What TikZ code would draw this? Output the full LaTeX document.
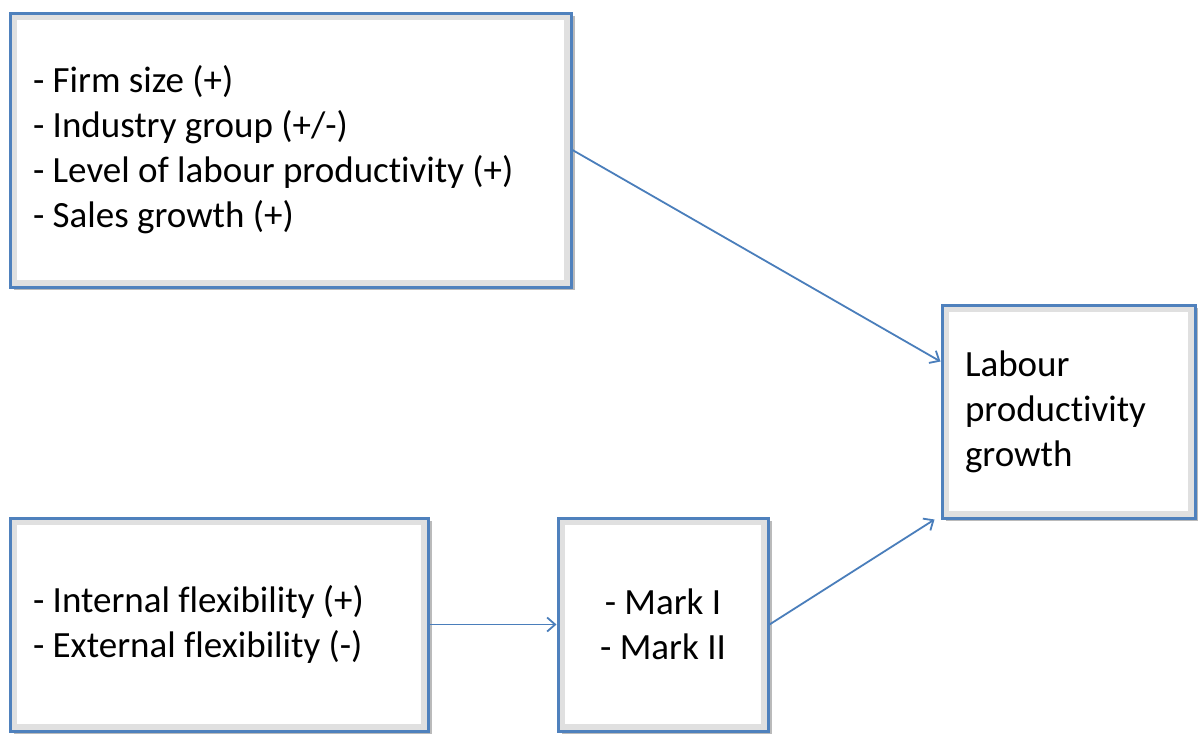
\documentclass[tikz,border=0pt]{standalone}
\usepackage{fontspec}
\setmainfont[Ligatures=NoCommon]{Carlito}
\usetikzlibrary{positioning,calc,shadows,arrows.meta}
\definecolor{boxblue}{RGB}{79,129,189}
\definecolor{boxdark}{RGB}{38,60,92}
\definecolor{arrowblue}{RGB}{74,126,187}

\begin{document}
\begin{tikzpicture}
		[x=1pt,y=-1pt,
		bevelbox/.style={rectangle, draw=boxblue, line width=3pt, fill=white, inner sep=0pt,
			drop shadow={shadow xshift=4pt, shadow yshift=-3pt, opacity=0.45, fill=black!60},
			path picture={\draw[black!12,line width=14pt] (path picture bounding box.south west) rectangle (path picture bounding box.north east);
				\draw[boxdark,line width=3pt] (path picture bounding box.north east) -- (path picture bounding box.south east) -- (path picture bounding box.south west);},
			font=\fontsize{37}{45}\selectfont},
		link/.style={-{Straight Barb[length=8pt,width=14pt]}, draw=arrowblue, line width=1.8pt},
		]
		\useasboundingbox (0,0) rectangle (1198,734);
		
		%Nodes
		\node[bevelbox, minimum width=561pt, minimum height=274pt, text width=515pt, align=flush left](factors) at (290.5,150)
			{- Firm size (+)\\- Industry group (+/-)\\- Level of labour productivity (+)\\- Sales growth (+)};
		\node[bevelbox, minimum width=253pt, minimum height=213pt, text width=207pt, align=flush left](growth) at (1068.5,411.5)
			{Labour\\productivity\\growth};
		\node[bevelbox, minimum width=418pt, minimum height=213pt, text width=372pt, align=flush left](flexibility) at (219,624.5)
			{- Internal flexibility (+)\\- External flexibility (-)};
		\node[bevelbox, minimum width=210pt, minimum height=213pt, align=center](mark) at (663,624.5)
			{- Mark I\\- Mark II};
		%Lines
		\draw[link](factors.east) -- ([yshift=-58pt]growth.north west);
		\draw[link](flexibility.east) -- (mark.west);
		\draw[link](mark.east) -- ([xshift=-6pt]growth.south west);
	\end{tikzpicture}
\end{document}
